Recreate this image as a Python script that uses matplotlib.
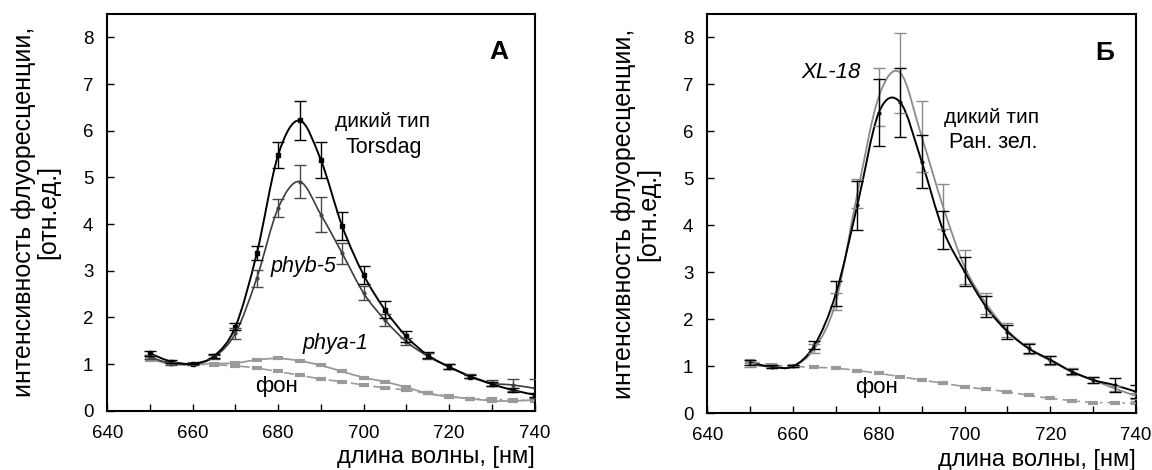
import numpy as np
import matplotlib

matplotlib.use("Agg")
import matplotlib.pyplot as plt
from matplotlib.path import Path
from matplotlib.patches import PathPatch
from matplotlib.ticker import MultipleLocator, FuncFormatter

plt.rcParams["font.family"] = ["Liberation Sans", "DejaVu Sans"]

wavelength = [650, 655, 660, 665, 670, 675, 680, 685, 690, 695,
              700, 705, 710, 715, 720, 725, 730, 735, 740]

# panel A
wt_torsdag = [1.23, 1.05, 1.01, 1.17, 1.80, 3.37, 5.48, 6.22, 5.37, 3.95,
              2.91, 2.16, 1.59, 1.19, 0.94, 0.73, 0.57, 0.44, 0.34]
wt_torsdag_err = [0.05, 0.03, 0.02, 0.05, 0.08, 0.15, 0.28, 0.42, 0.38, 0.30,
                  0.20, 0.18, 0.12, 0.07, 0.05, 0.04, 0.05, 0.05, 0.04]
phyb5 = [1.15, 1.01, 1.00, 1.15, 1.66, 2.84, 4.34, 4.91, 4.20, 3.37,
         2.52, 1.94, 1.48, 1.17, 0.94, 0.74, 0.59, 0.55, 0.48]
phyb5_err = [0.04, 0.03, 0.02, 0.04, 0.12, 0.18, 0.20, 0.36, 0.38, 0.22,
             0.15, 0.13, 0.08, 0.06, 0.05, 0.04, 0.06, 0.13, 0.20]
phya1 = [1.10, 1.00, 1.00, 1.01, 1.02, 1.09, 1.12, 1.07, 0.97, 0.84,
         0.71, 0.62, 0.50, 0.37, 0.30, 0.26, 0.21, 0.21, 0.23]
bg_a = [1.09, 1.03, 1.00, 0.98, 0.96, 0.91, 0.84, 0.76, 0.68, 0.62,
        0.55, 0.49, 0.44, 0.37, 0.31, 0.26, 0.24, 0.23, 0.21]

# panel Б
wt_ranzel = [1.08, 0.99, 1.00, 1.45, 2.55, 4.43, 6.40, 6.62, 5.36, 3.90,
             3.02, 2.27, 1.74, 1.38, 1.14, 0.89, 0.71, 0.60, 0.46]
wt_ranzel_err = [0.05, 0.03, 0.02, 0.08, 0.27, 0.52, 0.72, 0.73, 0.56, 0.40,
                 0.31, 0.23, 0.15, 0.10, 0.08, 0.06, 0.06, 0.15, 0.14]
xl18 = [1.03, 0.99, 1.00, 1.38, 2.38, 4.68, 6.74, 7.25, 5.89, 4.40,
        3.12, 2.34, 1.77, 1.38, 1.12, 0.89, 0.71, 0.53, 0.37]
xl18_err = [0.05, 0.03, 0.02, 0.10, 0.18, 0.31, 0.62, 0.85, 0.75, 0.48,
            0.36, 0.23, 0.15, 0.12, 0.10, 0.08, 0.07, 0.05, 0.06]
bg_b = [1.11, 1.03, 1.00, 0.98, 0.96, 0.91, 0.85, 0.78, 0.71, 0.64,
        0.57, 0.51, 0.46, 0.38, 0.32, 0.27, 0.23, 0.23, 0.21]

ylabel = "интенсивность флуоресценции,\n[отн.ед.]"
xlabel = "длина волны, [нм]"


def smooth_line(ax, x, y, color, lw=1.2, ls="-"):
    # Excel-like smoothed line: cubic bezier through the points
    pts = np.column_stack([x, y]).astype(float)
    n = len(pts)
    verts = [pts[0]]
    codes = [Path.MOVETO]
    for i in range(n - 1):
        p0 = pts[i - 1] if i > 0 else pts[i]
        p1, p2 = pts[i], pts[i + 1]
        p3 = pts[i + 2] if i + 2 < n else pts[i + 1]
        verts += [p1 + (p2 - p0) / 6, p2 - (p3 - p1) / 6, p2]
        codes += [Path.CURVE4] * 3
    ax.add_patch(PathPatch(Path(verts, codes), fill=False, edgecolor=color,
                           lw=lw, linestyle=ls, zorder=3))


def style(ax):
    ax.set_xlim(640, 740)
    ax.set_ylim(0, 8.5)
    ax.xaxis.set_major_locator(MultipleLocator(10))
    ax.xaxis.set_major_formatter(FuncFormatter(lambda v, p: f"{v:.0f}" if round(v) % 20 == 0 else ""))
    ax.yaxis.set_major_locator(MultipleLocator(1))
    ax.tick_params(axis="x", direction="in", length=5, width=1, pad=10, labelsize=13.5)
    ax.tick_params(axis="y", direction="in", length=5, width=1, pad=10, labelsize=13.5)
    for sp in ax.spines.values():
        sp.set_linewidth(1.5)
    ax.set_ylabel(ylabel, fontsize=18, linespacing=1.0)
    ax.yaxis.set_label_coords(-0.11, 0.5)
    ax.set_xlabel(xlabel, fontsize=17, loc="right")
    ax.xaxis.set_label_coords(1.0, -0.09)


def errs(ax, y, e, color):
    ax.errorbar(wavelength, y, yerr=e, fmt="none", ecolor=color, elinewidth=1.0,
                capsize=4, capthick=1.0, zorder=4)


fig = plt.figure(figsize=(11.52, 4.70), dpi=100)
ax1 = fig.add_axes([0.0931, 0.1262, 0.3709, 0.8440])
ax2 = fig.add_axes([0.614, 0.1206, 0.3721, 0.8496])

# ---- A ----
smooth_line(ax1, wavelength, bg_a, "#9a9a9a", lw=1.2, ls=(0, (6, 3, 1.5, 3)))
ax1.plot(wavelength, bg_a, ls="none", marker="_", ms=7, mew=3, color="#9a9a9a")
smooth_line(ax1, wavelength, phya1, "#9a9a9a", lw=1.3)
ax1.plot(wavelength, phya1, ls="none", marker="_", ms=7, mew=3, color="#9a9a9a")
smooth_line(ax1, wavelength, phyb5, "#3c3c3c", lw=1.2)
errs(ax1, phyb5, phyb5_err, "#4a4a4a")
ax1.plot(wavelength, phyb5, ls="none", marker="o", ms=2, color="#3c3c3c")
smooth_line(ax1, wavelength, wt_torsdag, "black", lw=1.4)
errs(ax1, wt_torsdag, wt_torsdag_err, "black")
ax1.plot(wavelength, wt_torsdag, ls="none", marker="s", ms=2.2, color="black")
style(ax1)

ax1.text(704.5, 6.19, "дикий тип", fontsize=15, ha="center", va="center")
ax1.text(704.7, 5.63, "Torsdag", fontsize=15.5, ha="center", va="center")
ax1.text(686, 3.10, "phyb-5", fontsize=15.5, style="italic", ha="center", va="center")
ax1.text(693.3, 1.45, "phya-1", fontsize=15.5, style="italic", ha="center", va="center")
ax1.text(679.7, 0.51, "фон", fontsize=16, ha="center", va="center")
ax1.text(731.7, 7.69, "А", fontsize=19, fontweight="bold", ha="center", va="center")

# ---- Б ----
smooth_line(ax2, wavelength, bg_b, "#9a9a9a", lw=1.2, ls=(0, (6, 3, 1.5, 3)))
ax2.plot(wavelength, bg_b, ls="none", marker="_", ms=7, mew=3, color="#9a9a9a")
smooth_line(ax2, wavelength, xl18, "#8a8a8a", lw=1.3)
errs(ax2, xl18, xl18_err, "#8a8a8a")
smooth_line(ax2, wavelength, wt_ranzel, "black", lw=1.4)
errs(ax2, wt_ranzel, wt_ranzel_err, "black")
ax2.plot(wavelength, wt_ranzel, ls="none", marker="o", ms=2, color="black")
style(ax2)

ax2.text(668.9, 7.25, "XL-18", fontsize=16, style="italic", ha="center", va="center")
ax2.text(706.2, 6.29, "дикий тип", fontsize=15, ha="center", va="center")
ax2.text(706.6, 5.76, "Ран. зел.", fontsize=15.5, ha="center", va="center")
ax2.text(679.4, 0.56, "фон", fontsize=16, ha="center", va="center")
ax2.text(732.8, 7.68, "Б", fontsize=19, fontweight="bold", ha="center", va="center")

fig.savefig("out.png", dpi=100, facecolor="white")
plt.close(fig)
